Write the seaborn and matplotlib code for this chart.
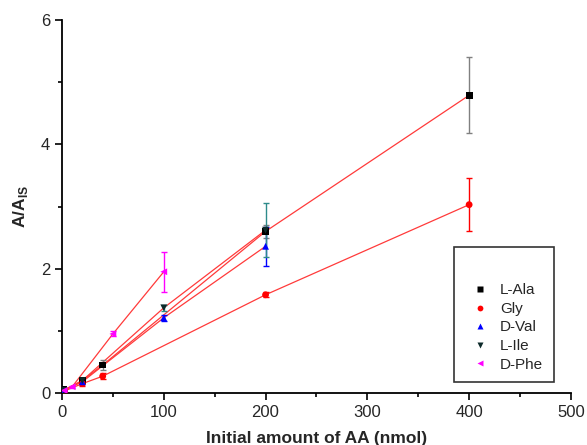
import numpy as np
import pandas as pd
import matplotlib
matplotlib.use("Agg")
import matplotlib.pyplot as plt
import seaborn as sns

# data
names = ["L-Ala", "Gly", "D-Val", "L-Ile", "D-Phe"]

ala_x = [2, 20, 40, 200, 400]
ala_y = [0.05, 0.20, 0.45, 2.60, 4.79]
ala_err = [0.02, 0.04, 0.08, 0.10, 0.61]

gly_x = [2, 20, 40, 200, 400]
gly_y = [0.03, 0.15, 0.27, 1.58, 3.03]
gly_err = [0.01, 0.03, 0.05, 0.04, 0.43]

val_x = [2, 20, 100, 200]
val_y = [0.04, 0.18, 1.21, 2.36]
val_err = [0.01, 0.03, 0.05, 0.31]

ile_x = [2, 20, 100, 200]
ile_y = [0.04, 0.20, 1.37, 2.62]
ile_err = [0.01, 0.03, 0.05, 0.44]

phe_x = [2, 10, 50, 100]
phe_y = [0.04, 0.10, 0.95, 1.95]
phe_err = [0.01, 0.02, 0.04, 0.32]

series_x = [ala_x, gly_x, val_x, ile_x, phe_x]
series_y = [ala_y, gly_y, val_y, ile_y, phe_y]
series_err = [ala_err, gly_err, val_err, ile_err, phe_err]

marker_colors = ["#000000", "#ff0000", "#0000ff", "#0d2a2a", "#ff00ff"]
err_colors = ["#808080", "#ff0000", "#0000ff", "#2e8b8b", "#ff00ff"]
markers = ["s", "o", "^", "v", "<"]

rows = []
for n, xs, ys, es in zip(names, series_x, series_y, series_err):
    for a, b, c in zip(xs, ys, es):
        rows.append({"aa": n, "x": a, "y": b, "err": c})
df = pd.DataFrame(rows)

sns.set_style("ticks")
plt.rcParams["font.family"] = ["Liberation Sans", "DejaVu Sans"]

fig = plt.figure(figsize=(5.87, 4.45), dpi=100)
ax = fig.add_axes([0.1056, 0.1169, 0.867, 0.838])

# red connecting lines
for n in names:
    sub = df[df["aa"] == n]
    sns.lineplot(data=sub, x="x", y="y", color="#ff3a3a", linewidth=0.9,
                 ax=ax, legend=False, sort=True, estimator=None)

# error bars
for i, n in enumerate(names):
    sub = df[df["aa"] == n]
    ax.errorbar(sub["x"], sub["y"], yerr=sub["err"], fmt="none",
                ecolor=err_colors[i], elinewidth=1.0, capsize=2.2,
                capthick=1.0, zorder=3)

# markers
sns.scatterplot(data=df, x="x", y="y", hue="aa", style="aa",
                hue_order=names, style_order=names,
                palette=marker_colors, markers=markers, s=24,
                edgecolor="none", ax=ax, zorder=4)

ax.set_xlim(0, 500)
ax.set_ylim(0, 6)
ax.set_xticks([0, 100, 200, 300, 400, 500])
ax.set_xticks([50, 150, 250, 350, 450], minor=True)
ax.set_yticks([0, 2, 4, 6])
ax.set_yticks([1, 3, 5], minor=True)
ax.tick_params(axis="both", which="major", direction="out", length=5,
               width=1.2, labelsize=12, color="black")
ax.tick_params(axis="both", which="minor", direction="out", length=3,
               width=1.2, color="black")
for s in ["left", "bottom"]:
    ax.spines[s].set_linewidth(1.3)
    ax.spines[s].set_color("black")
sns.despine(ax=ax)

ax.set_xlabel("Initial amount of AA (nmol)", fontsize=12.5, fontweight="bold",
              labelpad=8)
ax.set_ylabel("A/A$_\\mathregular{IS}$", fontsize=12.5, fontweight="bold",
              labelpad=8)

leg = ax.legend(title=" ", loc="lower left", bbox_to_anchor=(0.756, 0.008),
                frameon=True, fancybox=False, edgecolor="black", fontsize=11,
                markerscale=0.85, handletextpad=0.3, borderpad=0.7,
                labelspacing=0.3, title_fontsize=16)
leg.get_frame().set_linewidth(1.2)

fig.savefig("out.png", dpi=100)
